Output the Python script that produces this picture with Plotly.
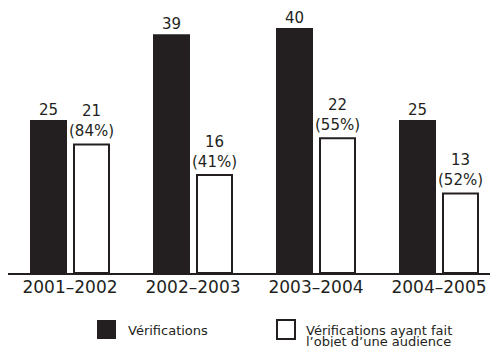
import plotly.graph_objects as go

# Fiscal years and counts
periods = ["2001–2002", "2002–2003", "2003–2004", "2004–2005"]
verifications = [25, 39, 40, 25]
with_hearing = [21, 16, 22, 13]

name_verif = "Vérifications"
name_hearing_lines = ["Vérifications ayant fait", "l’objet d’une audience"]

INK = "#231f20"
FONT = "DejaVu Sans"

W_PX, H_PX = 490, 347
L_PX, BASE_PX = 8, 273          # left edge of the axis, baseline of the bars
plot_w, plot_h = W_PX - L_PX, BASE_PX
unit_px = 123.0                 # width of one period slot
px_per_unit = 6.125             # vertical scale

x_idx = list(range(len(periods)))
x_lo = -62.0 / unit_px
x_hi = x_lo + plot_w / unit_px

black_off, black_w = -40 / unit_px, 37 / unit_px
white_off, white_w = 4 / unit_px, 35 / unit_px


def px(x):
    return (x - L_PX) / plot_w


def py(y):
    return (BASE_PX - y) / plot_h


fig = go.Figure()
fig.add_trace(go.Bar(
    x=x_idx, y=verifications, name=name_verif,
    offset=black_off, width=black_w,
    marker=dict(color=INK, line=dict(width=0)),
    showlegend=False, hoverinfo="skip",
))
fig.add_trace(go.Bar(
    x=x_idx, y=with_hearing, name=" ".join(name_hearing_lines),
    offset=white_off, width=white_w,
    marker=dict(color="white", line=dict(color=INK, width=2)),
    showlegend=False, hoverinfo="skip",
))

# Value labels above each bar (count, plus share of verifications for the white bars)
label_font = dict(family=FONT, size=15, color=INK)
annotations = []
for i, (v, h) in enumerate(zip(verifications, with_hearing)):
    annotations.append(dict(
        x=i + black_off + black_w / 2, y=v, xref="x", yref="y",
        text=str(v), showarrow=False, yanchor="bottom", yshift=-1,
        font=label_font,
    ))
    pct = round(100 * h / v)
    annotations.append(dict(
        x=i + white_off + white_w / 2, y=h, xref="x", yref="y",
        text=f"{h}<br>({pct}%)", showarrow=False, yanchor="bottom", yshift=2,
        font=label_font,
    ))

# Legend: swatches and captions along the bottom
legend_font = dict(family=FONT, size=13, color=INK)
shapes = [
    dict(type="rect", xref="paper", yref="paper", layer="above",
         x0=px(97), x1=px(116), y0=py(320), y1=py(339),
         fillcolor=INK, line=dict(width=0)),
    dict(type="rect", xref="paper", yref="paper", layer="above",
         x0=px(277), x1=px(295), y0=py(320), y1=py(339),
         fillcolor="white", line=dict(color=INK, width=2)),
]
annotations.append(dict(
    x=px(126), y=py(330), xref="paper", yref="paper",
    text=name_verif, showarrow=False, xanchor="left", yanchor="middle",
    font=legend_font,
))
for k, line in enumerate(name_hearing_lines):
    annotations.append(dict(
        x=px(304), y=py(330 + 11 * k), xref="paper", yref="paper",
        text=line, showarrow=False, xanchor="left", yanchor="middle",
        font=legend_font,
    ))

fig.update_layout(
    width=W_PX, height=H_PX,
    margin=dict(l=L_PX, r=0, t=0, b=H_PX - BASE_PX),
    paper_bgcolor="white", plot_bgcolor="white",
    barmode="overlay",
    shapes=shapes, annotations=annotations,
    xaxis=dict(
        range=[x_lo, x_hi], tickmode="array", tickvals=x_idx, ticktext=periods,
        showgrid=False, zeroline=False, showline=True, linecolor=INK, linewidth=2,
        ticks="", ticklabelstandoff=-2,
        tickfont=dict(family=FONT, size=17, color=INK),
        fixedrange=True,
    ),
    yaxis=dict(
        range=[0, BASE_PX / px_per_unit], visible=False, showgrid=False,
        zeroline=False, fixedrange=True,
    ),
)

fig.write_html("out.html")
